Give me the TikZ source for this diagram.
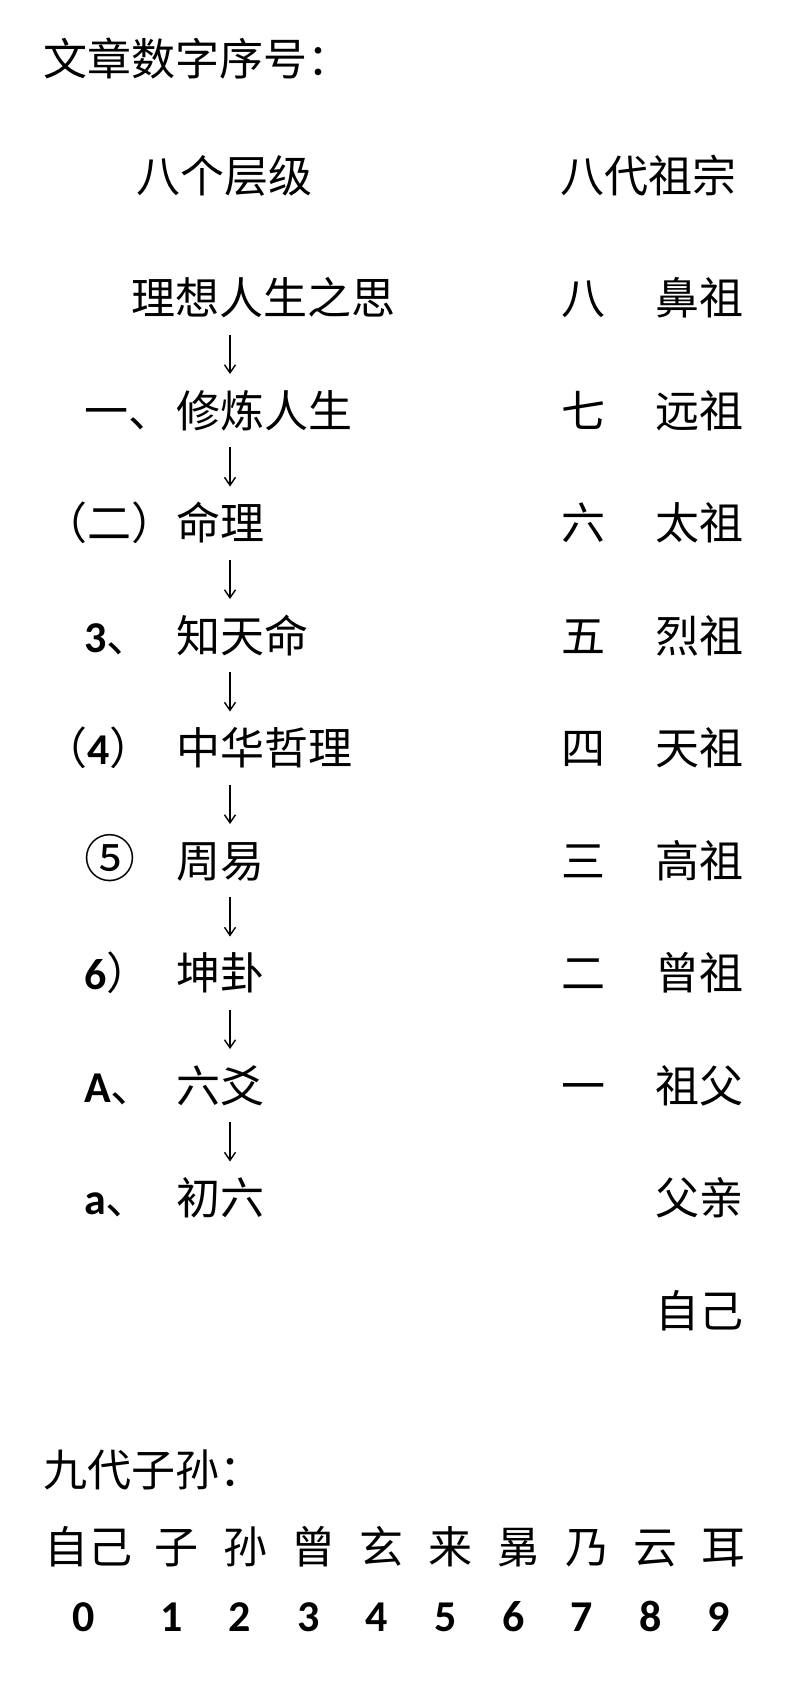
\documentclass[tikz,border=0pt]{standalone}
\usepackage{fontspec}
\setmainfont{Noto Sans CJK SC}
\newfontfamily\numfont{Carlito}
\usetikzlibrary{arrows.meta,positioning}
\newcommand{\nb}[1]{{\numfont\bfseries #1}}

\begin{document}
\begin{tikzpicture}[x=1pt, y=-1pt, >={Straight Barb[length=8pt,width=11pt]}]
    \tikzstyle{every node} = [font=\fontsize{44pt}{50pt}\selectfont, inner sep=0pt, text height=38pt, text depth=4.6pt]
    \tikzstyle{entry} = [anchor=west]
    \tikzstyle{digit} = [font=\numfont\bfseries\fontsize{44pt}{50pt}\selectfont, xshift=-5pt]
    \tikzstyle{link} = [->, line width=1.4pt, shorten <=15pt, shorten >=15pt]

    \path[fill=white, use as bounding box] (0,0) rectangle (800,1687);

    % headings
    \node (title) [entry] at (43,59) {文章数字序号：};
    \node (levels) [entry] at (136,176) {八个层级};
    \node (ancestors) [entry] at (560,176) {八代祖宗};

    % eight levels
    \coordinate (c1) at (84,0);
    \coordinate (c2) at (43,0);
    \coordinate (ax) at (230,0);
    \node (t1) [entry] at (131,298) {理想人生之思};
    \node (t2) [entry] at (176,410.5) {修炼人生};
    \node (t3) [below=112.5pt of t2.west, anchor=west] {命理};
    \node (t4) [below=112.5pt of t3.west, anchor=west] {知天命};
    \node (t5) [below=112.5pt of t4.west, anchor=west] {中华哲理};
    \node (t6) [below=112.5pt of t5.west, anchor=west] {周易};
    \node (t7) [below=112.5pt of t6.west, anchor=west] {坤卦};
    \node (t8) [below=112.5pt of t7.west, anchor=west] {六爻};
    \node (t9) [below=112.5pt of t8.west, anchor=west] {初六};

    \node (n2) [entry] at (t2.west -| c1) {一、};
    \node (n3) [entry] at (t3.west -| c2) {（二）};
    \node (n4) [entry] at (t4.west -| c1) {\nb{3}、};
    \node (n5) [entry] at (t5.west -| c2) {（\nb{4}）};
    \node (n6) [entry] at (t6.west -| c1) {\fontsize{51pt}{56pt}\selectfont ⑤};
    \node (n7) [entry] at (t7.west -| c1) {\nb{6}）};
    \node (n8) [entry] at (t8.west -| c1) {\nb{A}、};
    \node (n9) [entry] at (t9.west -| c1) {\nb{a}、};

    \draw [link] (t1.south -| ax) -- (t2.north -| ax);
    \draw [link] (t2.south -| ax) -- (t3.north -| ax);
    \draw [link] (t3.south -| ax) -- (t4.north -| ax);
    \draw [link] (t4.south -| ax) -- (t5.north -| ax);
    \draw [link] (t5.south -| ax) -- (t6.north -| ax);
    \draw [link] (t6.south -| ax) -- (t7.north -| ax);
    \draw [link] (t7.south -| ax) -- (t8.north -| ax);
    \draw [link] (t8.south -| ax) -- (t9.north -| ax);

    % eight ancestors
    \coordinate (r1) at (561,0);
    \coordinate (r2) at (655,0);
    \node (p8) [entry] at (t1.west -| r1) {八};
    \node (p7) [entry] at (t2.west -| r1) {七};
    \node (p6) [entry] at (t3.west -| r1) {六};
    \node (p5) [entry] at (t4.west -| r1) {五};
    \node (p4) [entry] at (t5.west -| r1) {四};
    \node (p3) [entry] at (t6.west -| r1) {三};
    \node (p2) [entry] at (t7.west -| r1) {二};
    \node (p1) [entry] at (t8.west -| r1) {一};
    \node (f8) [entry] at (t1.west -| r2) {鼻祖};
    \node (f7) [entry] at (t2.west -| r2) {远祖};
    \node (f6) [entry] at (t3.west -| r2) {太祖};
    \node (f5) [entry] at (t4.west -| r2) {烈祖};
    \node (f4) [entry] at (t5.west -| r2) {天祖};
    \node (f3) [entry] at (t6.west -| r2) {高祖};
    \node (f2) [entry] at (t7.west -| r2) {曾祖};
    \node (f1) [entry] at (t8.west -| r2) {祖父};
    \node (fa) [entry] at (t9.west -| r2) {父亲};
    \node (me) [below=112.5pt of fa.west, anchor=west] {自己};

    % nine descendants
    \node (sons) [entry] at (43,1470) {九代子孙：};
    \node (s0) [entry] at (44,1547) {自己};
    \node (s1) [right=22pt of s0] {子};
    \node (s2) [right=24pt of s1] {孙};
    \node (s3) [right=24pt of s2] {曾};
    \node (s4) [right=24pt of s3] {玄};
    \node (s5) [right=24pt of s4] {来};
    \node (s6) [right=24pt of s5] {晜};
    \node (s7) [right=24pt of s6] {乃};
    \node (s8) [right=24pt of s7] {云};
    \node (s9) [right=24pt of s8] {耳};
    \node (d0) [digit, below=25pt of s0] {0};
    \node (d1) [digit, below=25pt of s1] {1};
    \node (d2) [digit, below=25pt of s2] {2};
    \node (d3) [digit, below=25pt of s3] {3};
    \node (d4) [digit, below=25pt of s4] {4};
    \node (d5) [digit, below=25pt of s5] {5};
    \node (d6) [digit, below=25pt of s6] {6};
    \node (d7) [digit, below=25pt of s7] {7};
    \node (d8) [digit, below=25pt of s8] {8};
    \node (d9) [digit, below=25pt of s9] {9};
\end{tikzpicture}
\end{document}
